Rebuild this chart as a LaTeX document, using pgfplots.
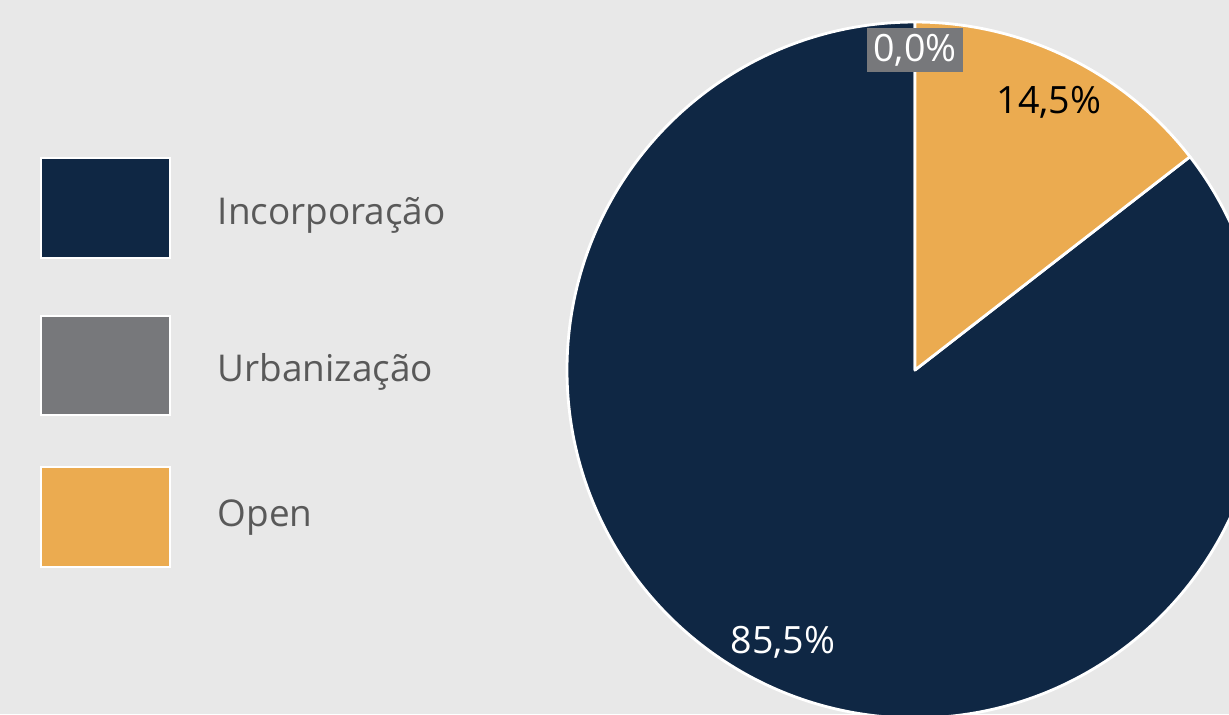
\documentclass[border=0pt]{standalone}
\usepackage{pgfplots}
\pgfplotsset{compat=1.18}
\usepackage{fontspec}
\setmainfont{Open Sans}
\definecolor{bg}{HTML}{E8E8E8}
\definecolor{navy}{HTML}{0F2744}
\definecolor{urb}{HTML}{77787B}
\definecolor{open}{HTML}{EBAB50}
\definecolor{txt}{HTML}{595959}
% shares in percent
\def\vInc{85.5}
\def\vUrb{0.0}
\def\vOpen{14.5}
\begin{document}
\begin{tikzpicture}
\begin{axis}[
  width=12.29cm, height=7.14cm, scale only axis,
  xmin=0, xmax=1229, ymin=0, ymax=714,
  hide axis, clip=true,
]
\fill[bg] (axis cs:0,0) rectangle (axis cs:1229,714);
\pgfmathsetmacro\aOpen{90-3.6*\vOpen}
\pgfmathsetmacro\aIncEnd{90+3.6*\vInc}
% Incorporação
\filldraw[fill=navy, draw=white, line width=0.8pt, line join=round]
  (axis cs:915,344) -- ++(90:3.48cm) arc[start angle=90, end angle=\aIncEnd, radius=3.48cm] -- cycle;
% Open
\filldraw[fill=open, draw=white, line width=0.8pt, line join=round]
  (axis cs:915,344) -- ++(\aOpen:3.48cm) arc[start angle=\aOpen, end angle=90, radius=3.48cm] -- cycle;
% labels
\node[fill=urb, text=white, font=\fontsize{10.7}{13}\selectfont, inner sep=1pt, minimum width=0.96cm, minimum height=0.44cm] at (axis cs:915,664) {0,0\%};
\node[text=black, font=\fontsize{10.7}{13}\selectfont] at (axis cs:1049,612) {14,5\%};
\node[text=white, font=\fontsize{10.7}{13}\selectfont] at (axis cs:783,72) {85,5\%};
% legend
\filldraw[fill=navy, draw=white, line width=0.6pt] (axis cs:41,456) rectangle (axis cs:170,556);
\filldraw[fill=urb, draw=white, line width=0.6pt] (axis cs:41,299) rectangle (axis cs:170,398);
\filldraw[fill=open, draw=white, line width=0.6pt] (axis cs:41,147) rectangle (axis cs:170,247);
\node[anchor=west, text=txt, font=\fontsize{10.5}{13}\selectfont, inner sep=0pt] at (axis cs:217,499) {Incorporação};
\node[anchor=west, text=txt, font=\fontsize{10.5}{13}\selectfont, inner sep=0pt] at (axis cs:217,342) {Urbanização};
\node[anchor=west, text=txt, font=\fontsize{10.5}{13}\selectfont, inner sep=0pt] at (axis cs:217,196) {Open};
\end{axis}
\pgfresetboundingbox
\useasboundingbox (current axis.south west) rectangle (current axis.north east);
\end{tikzpicture}
\end{document}
